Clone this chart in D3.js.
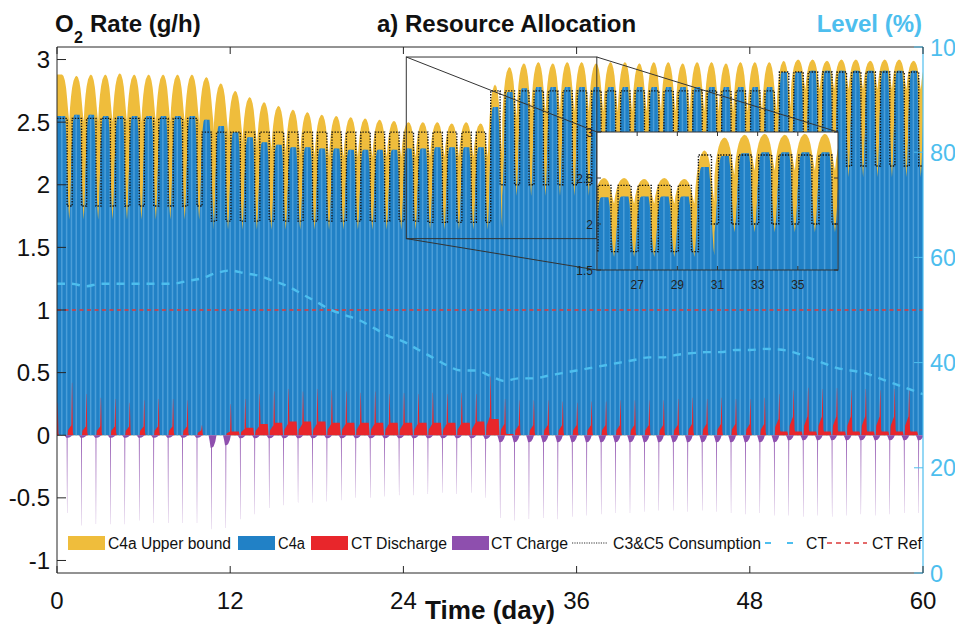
<!DOCTYPE html>
<html><head><meta charset="utf-8">
<script src="https://cdn.jsdelivr.net/npm/d3@7"></script>
<style>
html,body{margin:0;padding:0;background:#fff;}
svg{display:block;font-family:"Liberation Sans",Arial,Helvetica,sans-serif;}
</style></head><body>
<svg id="chart" width="955" height="625"></svg>
<script>
// ================= DATA =================
const days = d3.range(60);                       // day index 0..59
const xTicks = [0, 12, 24, 36, 48, 60];
const yLeftTicks = [-1, -0.5, 0, 0.5, 1, 1.5, 2, 2.5, 3];
const yRightTicks = [0, 20, 40, 60, 80, 100];
const insetXTicks = [27, 29, 31, 33, 35];
const insetYTicks = [1.5, 2, 2.5, 3];

// per daily cycle (g/h)
const upperPeak = [2.88,2.87,2.88,2.88,2.89,2.88,2.88,2.88,2.88,2.88,
  2.86,2.81,2.75,2.70,2.66,2.63,2.60,2.58,2.56,2.55,
  2.54,2.53,2.52,2.51,2.50,2.50,2.50,2.49,2.50,2.49,
  2.80,2.94,2.97,2.98,2.97,2.98,2.98,2.97,2.98,2.98,
  2.97,2.98,2.98,2.97,2.98,2.98,2.97,2.98,2.98,2.98,
  2.99,3.00,3.00,2.99,3.00,3.00,2.99,3.00,3.00,2.99];
const upperLow = [2.50,2.50,2.50,2.50,2.50,2.50,2.50,2.50,2.50,2.50,
  2.48,2.43,2.38,2.33,2.29,2.27,2.25,2.24,2.22,2.22,
  2.22,2.22,2.22,2.22,2.22,2.22,2.22,2.22,2.22,2.22,
  2.22,2.52,2.58,2.58,2.58,2.58,2.58,2.58,2.58,2.58,
  2.58,2.58,2.58,2.58,2.58,2.58,2.58,2.58,2.58,2.58,
  2.60,2.76,2.76,2.76,2.76,2.76,2.76,2.76,2.76,2.76];
const c4aPeak = [2.55,2.56,2.56,2.55,2.55,2.55,2.55,2.55,2.55,2.55,
  2.52,2.47,2.42,2.38,2.34,2.32,2.30,2.30,2.29,2.29,
  2.28,2.28,2.28,2.28,2.29,2.29,2.30,2.30,2.30,2.30,
  2.62,2.74,2.77,2.78,2.78,2.78,2.78,2.78,2.78,2.78,
  2.78,2.78,2.78,2.78,2.78,2.78,2.78,2.78,2.78,2.78,
  2.90,2.90,2.91,2.91,2.91,2.91,2.91,2.91,2.91,2.91];
const dipLevel = [1.72,1.72,1.72,1.72,1.72,1.72,1.72,1.72,1.72,1.72,
  1.72,1.64,1.64,1.64,1.64,1.64,1.64,1.64,1.64,1.64,
  1.64,1.64,1.64,1.64,1.64,1.64,1.64,1.64,1.64,1.64,
  1.64,1.91,1.91,1.91,1.91,1.91,1.91,1.91,1.91,1.91,
  1.91,1.91,1.91,1.91,1.91,1.91,1.91,1.91,1.91,1.91,
  1.91,2.06,2.06,2.06,2.06,2.06,2.06,2.06,2.06,2.06];
// C3&C5 consumption square wave, per day
const consHigh = [2.53,2.53,2.53,2.53,2.53,2.53,2.53,2.53,2.53,2.53,
  2.42,2.42,2.42,2.42,2.42,2.42,2.42,2.42,2.42,2.42,
  2.42,2.42,2.42,2.42,2.42,2.42,2.42,2.42,2.42,2.42,
  2.75,2.75,2.75,2.75,2.75,2.75,2.75,2.75,2.75,2.75,
  2.75,2.75,2.75,2.75,2.75,2.75,2.75,2.75,2.75,2.75,
  2.90,2.90,2.90,2.90,2.90,2.90,2.90,2.90,2.90,2.90];
const consLow = [1.83,1.83,1.83,1.83,1.83,1.83,1.83,1.83,1.83,1.83,
  1.71,1.71,1.71,1.71,1.71,1.71,1.71,1.71,1.71,1.71,
  1.71,1.71,1.71,1.71,1.71,1.70,1.70,1.70,1.70,1.70,
  2.00,2.00,2.00,2.00,2.00,2.00,2.00,2.00,2.00,2.00,
  2.00,2.00,2.00,2.00,2.00,2.00,2.00,2.00,2.00,2.00,
  2.15,2.15,2.15,2.15,2.15,2.15,2.15,2.15,2.15,2.15];
// CT discharge (spike, base before spike, base after spike)
const redSpike = [0.26,0.42,0.33,0.30,0.29,0.26,0.28,0.29,0.29,0.28,
  0.08,0.00,0.25,0.29,0.33,0.35,0.37,0.35,0.37,0.36,
  0.35,0.34,0.35,0.33,0.34,0.33,0.34,0.33,0.34,0.33,
  0.47,0.29,0.28,0.28,0.28,0.27,0.26,0.27,0.27,0.28,
  0.28,0.28,0.28,0.29,0.30,0.29,0.30,0.29,0.29,0.30,
  0.33,0.36,0.38,0.37,0.38,0.36,0.37,0.36,0.37,0.36];
const redPre = [0.05,0.08,0.07,0.07,0.07,0.07,0.07,0.07,0.07,0.07,
  0.04,0.00,0.03,0.05,0.07,0.08,0.09,0.09,0.09,0.09,
  0.09,0.09,0.09,0.09,0.09,0.09,0.09,0.09,0.09,0.10,
  0.15,0.09,0.08,0.08,0.08,0.08,0.08,0.08,0.08,0.08,
  0.08,0.08,0.08,0.08,0.09,0.09,0.09,0.09,0.09,0.09,
  0.13,0.15,0.15,0.15,0.15,0.15,0.15,0.15,0.15,0.15];
const redPost = [0,0,0,0,0,0,0,0,0,0,
  0,0,0.03,0.06,0.09,0.10,0.11,0.11,0.11,0.10,
  0.10,0.10,0.10,0.10,0.10,0.10,0.10,0.10,0.10,0.11,
  0.13,0.01,0,0,0,0,0,0,0,0,
  0,0,0,0,0,0,0,0,0,0,
  0.03,0.03,0.03,0.03,0.03,0.03,0.03,0.03,0.03,0.03];
// CT charge (negative): spike depth and hump depth
const chargeSpike = [-0.62,-0.72,-0.71,-0.71,-0.71,-0.68,-0.70,-0.70,-0.70,-0.70,
  -0.75,-0.74,-0.67,-0.63,-0.58,-0.56,-0.54,-0.54,-0.53,-0.52,
  -0.50,-0.50,-0.49,-0.48,-0.48,-0.47,-0.46,-0.47,-0.46,-0.50,
  -0.66,-0.68,-0.67,-0.66,-0.67,-0.65,-0.64,-0.63,-0.62,-0.62,
  -0.61,-0.60,-0.60,-0.61,-0.60,-0.61,-0.62,-0.63,-0.62,-0.64,
  -0.64,-0.65,-0.64,-0.65,-0.64,-0.63,-0.64,-0.63,-0.62,-0.62];
const chargeHump = [0.02,0.02,0.02,0.02,0.02,0.02,0.02,0.02,0.02,0.02,
  0.10,0.08,0.025,0.025,0.025,0.025,0.025,0.025,0.025,0.025,
  0.025,0.025,0.025,0.025,0.025,0.025,0.025,0.025,0.025,0.03,
  0.055,0.055,0.055,0.055,0.055,0.055,0.055,0.055,0.055,0.055,
  0.055,0.055,0.055,0.055,0.055,0.055,0.055,0.055,0.055,0.055,
  0.04,0.04,0.04,0.04,0.04,0.04,0.04,0.04,0.04,0.04];
// CT level (%) at day 0..60
const ctLevel = [55,55,54.5,55,55,55,55,55,55,55.5,
  56,57,57.5,57,56.5,55.5,54.5,53,51.5,50,
  49,48,46.5,45,44,42.5,41,39.5,38.5,38.5,
  37.5,36.5,37,37,37.5,38,38.5,39,39.5,40,
  40.5,41,41,41.5,41.8,42,42,42.4,42.4,42.6,
  42.5,42,41,40,39,38.5,38,37,36,35,34];
const ctRefLevel = 50;
// within-cycle shape (phase from dip to next dip, fraction of low->peak)
const upperPhase = [0,0.05,0.12,0.2,0.3,0.42,0.5,0.6,0.7,0.78,0.85,0.92,1];
const upperFrac  = [0,0.3,0.55,0.75,0.9,0.98,1,0.97,0.87,0.72,0.5,0.25,0];
const c4aPhase = [0,0.06,0.12,0.18,0.24,0.3,0.35,0.72,0.78,0.84,0.9,0.95,1];
const c4aFrac  = [0,0.15,0.4,0.7,0.9,0.98,1,1,0.85,0.55,0.28,0.1,0];

const legendLabels = ["C4a Upper bound","C4a","CT Discharge","CT Charge","C3&C5 Consumption","CT","CT Ref"];

// ================= COLOURS / LAYOUT =================
const C = {yellow:"#efbd3c", blue:"#2181c6", stripe:"#4c9ed8", red:"#e8262b",
  purple:"#8e4fae", cyan:"#4dbeee", refRed:"#dc3a3a", axis:"#262626"};
const svg = d3.select("#chart");
const x  = d3.scaleLinear().domain([0,60]).range([57,923]);
const yL = d3.scaleLinear().domain([-1.1,3.1]).range([573,47]);
const yR = d3.scaleLinear().domain([0,100]).range([573,47]);
const xi = d3.scaleLinear().domain([25,37]).range([597,838]);
const yi = d3.scaleLinear().domain([1.5,3]).range([270,132]);
const zoomSrc = {x0:24.2, x1:37.4, y0:1.57, y1:3.02};

// ================= BUILD SERIES =================
const fU = d3.scaleLinear().domain(upperPhase).range(upperFrac);
const fC = d3.scaleLinear().domain(c4aPhase).range(c4aFrac);
const series = d3.range(0,6001).map(i=>{
  const t = i/100;
  const k = Math.floor(t+0.15);
  let q = t+0.15-k;
  if (k===0) q = Math.max(q,0.5);
  const ki = Math.min(k,59);
  const lo = upperLow[ki], d = dipLevel[ki];
  const u = lo + fU(q)*(upperPeak[ki]-lo);
  const c = Math.min(u, d + fC(q)*(c4aPeak[ki]-d));
  return {t,u,c};
});
const consPts = [[0,consHigh[0]],[0.7,consLow[0]]];
days.slice(1).forEach(n=>{consPts.push([n+0.05,consHigh[n]]); consPts.push([n+0.7,consLow[n]]);});
consPts.push([60,consLow[59]]);

const redPts = [[0,redPre[0]]];
days.forEach(n=>{
  const s=redSpike[n], b1=redPre[n], b2=redPost[n];
  [[n-0.27,0],[n-0.24,0.5*b1],[n-0.1,0.8*b1],[n-0.01,b1],[n+0.035,s],[n+0.05,s],
   [n+0.1,Math.max(b2,0.3*b1)],[n+0.14,b2],[n+0.6,b2],[n+0.66,0]]
   .forEach(p=>{ if(p[0]>0) redPts.push(p); });
});
const purPts = [[0,0]];
days.forEach(n=>{
  const d=chargeSpike[n], h=chargeHump[n];
  [[n+0.5,0],[n+0.58,-0.5*h],[n+0.64,-h],[n+0.67,-h],[n+0.695,d],[n+0.705,d],
   [n+0.73,-h],[n+0.85,-0.9*h],[n+0.97,-0.5*h],[n+1.05,0]].forEach(p=>purPts.push(p));
});

// ================= DEFS =================
const defs = svg.append("defs");
defs.append("clipPath").attr("id","plotClip").append("rect")
  .attr("x",57).attr("y",47).attr("width",866).attr("height",526);
defs.append("clipPath").attr("id","insetClip").append("rect")
  .attr("x",597).attr("y",132).attr("width",241).attr("height",138);

function drawCore(g, xs, ys, data, clipId){
  g.append("path").datum(data)
    .attr("d", d3.area().x(d=>xs(d.t)).y0(ys(0)).y1(d=>ys(d.u)))
    .attr("fill", C.yellow);
  const blueArea = d3.area().x(d=>xs(d.t)).y0(ys(0)).y1(d=>ys(d.c));
  g.append("path").datum(data).attr("d", blueArea).attr("fill", C.blue);
  defs.append("clipPath").attr("id",clipId).append("path").datum(data).attr("d",blueArea);
  const dom = xs.domain();
  const stripes = d3.range(1,180).map(k=>k/3).filter(v=>v>=dom[0]-1 && v<=dom[1]+1);
  g.append("g").attr("clip-path",`url(#${clipId})`).selectAll("line").data(stripes).join("line")
    .attr("x1",d=>xs(d)).attr("x2",d=>xs(d)).attr("y1",ys(-0.5)).attr("y2",ys(3.2))
    .attr("stroke",C.stripe).attr("stroke-width",1.5);
}

// ================= MAIN PLOT =================
const gPlot = svg.append("g").attr("clip-path","url(#plotClip)");
drawCore(gPlot, x, yL, series, "blueClipMain");
gPlot.append("path").datum(redPts)
  .attr("d", d3.area().x(d=>x(d[0])).y0(yL(0)).y1(d=>yL(d[1])))
  .attr("fill", C.red);
gPlot.append("path").datum(purPts)
  .attr("d", d3.area().x(d=>x(d[0])).y0(yL(0)).y1(d=>yL(d[1])))
  .attr("fill", C.purple);
gPlot.append("path").datum(consPts)
  .attr("d", d3.line().x(d=>x(d[0])).y(d=>yL(d[1])).curve(d3.curveStepAfter))
  .attr("fill","none").attr("stroke","#111").attr("stroke-width",1.4).attr("stroke-dasharray","1.4,1.4");
gPlot.append("line").attr("x1",x(0)).attr("x2",x(60)).attr("y1",yR(ctRefLevel)).attr("y2",yR(ctRefLevel))
  .attr("stroke",C.refRed).attr("stroke-width",1.7).attr("stroke-dasharray","4,3.5");
gPlot.append("path").datum(ctLevel.map((v,i)=>[i,v]))
  .attr("d", d3.line().x(d=>x(d[0])).y(d=>yR(d[1])).curve(d3.curveMonotoneX))
  .attr("fill","none").attr("stroke",C.cyan).attr("stroke-width",2.4).attr("stroke-dasharray","8,7");

// ================= AXES =================
const ax = svg.append("g");
ax.append("line").attr("x1",57).attr("x2",923).attr("y1",47).attr("y2",47).attr("stroke",C.axis).attr("stroke-width",1);
ax.append("line").attr("x1",57).attr("x2",923).attr("y1",573).attr("y2",573).attr("stroke",C.axis).attr("stroke-width",1);
ax.append("line").attr("x1",57).attr("x2",57).attr("y1",47).attr("y2",573).attr("stroke",C.axis).attr("stroke-width",1);
ax.append("line").attr("x1",923).attr("x2",923).attr("y1",47).attr("y2",573).attr("stroke",C.cyan).attr("stroke-width",1.2);
ax.selectAll(".ly").data(yLeftTicks).join("line")
  .attr("x1",57).attr("x2",66).attr("y1",d=>yL(d)).attr("y2",d=>yL(d)).attr("stroke",C.axis);
ax.selectAll(".lyt").data(yLeftTicks).join("text")
  .attr("x",50).attr("y",d=>yL(d)+8.5).attr("text-anchor","end")
  .attr("font-size",24).attr("fill","#111").text(d=>String(d));
ax.selectAll(".ry").data(yRightTicks).join("line")
  .attr("x1",914).attr("x2",923).attr("y1",d=>yR(d)).attr("y2",d=>yR(d)).attr("stroke",C.cyan);
ax.selectAll(".ryt").data(yRightTicks).join("text")
  .attr("x",930).attr("y",d=>yR(d)+8.5).attr("font-size",23.5).attr("fill",C.cyan).text(d=>String(d));
ax.selectAll(".bx").data(xTicks).join("line")
  .attr("x1",d=>x(d)).attr("x2",d=>x(d)).attr("y1",573).attr("y2",566).attr("stroke",C.axis);
ax.selectAll(".tx").data(xTicks).join("line")
  .attr("x1",d=>x(d)).attr("x2",d=>x(d)).attr("y1",47).attr("y2",54).attr("stroke",C.axis);
ax.selectAll(".bxt").data(xTicks).join("text")
  .attr("x",d=>x(d)).attr("y",609).attr("text-anchor","middle")
  .attr("font-size",24).attr("fill","#111").text(d=>String(d));

// titles
svg.append("text").attr("x",377).attr("y",32).attr("font-size",24).attr("font-weight","bold")
  .attr("fill","#111").text("a) Resource Allocation");
svg.append("text").attr("x",55).attr("y",32).attr("font-size",24).attr("font-weight","bold").attr("fill","#111").text("O");
svg.append("text").attr("x",74).attr("y",43).attr("font-size",16).attr("font-weight","bold").attr("fill","#111").text("2");
svg.append("text").attr("x",90).attr("y",32).attr("font-size",24).attr("font-weight","bold").attr("fill","#111").text("Rate (g/h)");
svg.append("text").attr("x",922).attr("y",32).attr("text-anchor","end").attr("font-size",24).attr("font-weight","bold")
  .attr("fill",C.cyan).text("Level (%)");
svg.append("text").attr("x",425).attr("y",619).attr("font-size",25).attr("font-weight","bold")
  .attr("textLength",130).attr("lengthAdjust","spacingAndGlyphs")
  .attr("fill","#111").text("Time (day)");

// ================= ZOOM INDICATOR + INSET =================
const zg = svg.append("g");
const sx0=x(zoomSrc.x0), sx1=x(zoomSrc.x1), sy0=yL(zoomSrc.y1), sy1=yL(zoomSrc.y0);
const ix0=xi.range()[0], ix1=xi.range()[1], iy0=yi.range()[1], iy1=yi.range()[0];
zg.append("rect").attr("x",sx0).attr("y",sy0).attr("width",sx1-sx0).attr("height",sy1-sy0)
  .attr("fill","none").attr("stroke","#333").attr("stroke-width",1);
[[sx0,sy0,ix0,iy0],[sx1,sy0,ix1,iy0],[sx0,sy1,ix0,iy1],[sx1,sy1,ix1,iy1]].forEach(l=>{
  zg.append("line").attr("x1",l[0]).attr("y1",l[1]).attr("x2",l[2]).attr("y2",l[3])
    .attr("stroke","#333").attr("stroke-width",1);
});
const ig = svg.append("g");
ig.append("rect").attr("x",ix0).attr("y",iy0).attr("width",ix1-ix0).attr("height",iy1-iy0).attr("fill","#fff");
const igc = ig.append("g").attr("clip-path","url(#insetClip)");
drawCore(igc, xi, yi, series.filter(d=>d.t>=24.5 && d.t<=37.5), "blueClipInset");
igc.append("path").datum(consPts.filter(d=>d[0]>=23 && d[0]<=38.5))
  .attr("d", d3.line().x(d=>xi(d[0])).y(d=>yi(d[1])).curve(d3.curveStepAfter))
  .attr("fill","none").attr("stroke","#111").attr("stroke-width",1.4).attr("stroke-dasharray","1.4,1.4");
ig.append("rect").attr("x",ix0).attr("y",iy0).attr("width",ix1-ix0).attr("height",iy1-iy0)
  .attr("fill","none").attr("stroke","#333").attr("stroke-width",1);
ig.selectAll(".ixt").data(insetXTicks).join("line")
  .attr("x1",d=>xi(d)).attr("x2",d=>xi(d)).attr("y1",iy1).attr("y2",iy1-4).attr("stroke","#333");
ig.selectAll(".ixt2").data(insetXTicks).join("line")
  .attr("x1",d=>xi(d)).attr("x2",d=>xi(d)).attr("y1",iy0).attr("y2",iy0+4).attr("stroke","#333");
ig.selectAll(".ixl").data(insetXTicks).join("text")
  .attr("x",d=>xi(d)).attr("y",289).attr("text-anchor","middle").attr("font-size",12).attr("fill","#222").text(d=>d);
ig.selectAll(".iyt").data(insetYTicks).join("line")
  .attr("x1",ix0).attr("x2",ix0+4).attr("y1",d=>yi(d)).attr("y2",d=>yi(d)).attr("stroke","#333");
ig.selectAll(".iyt2").data(insetYTicks).join("line")
  .attr("x1",ix1).attr("x2",ix1-4).attr("y1",d=>yi(d)).attr("y2",d=>yi(d)).attr("stroke","#333");
ig.selectAll(".iyl").data(insetYTicks).join("text")
  .attr("x",593).attr("y",d=>yi(d)+4.5).attr("text-anchor","end").attr("font-size",12).attr("fill","#222").text(d=>d);

// ================= LEGEND =================
const lg = svg.append("g");
lg.append("rect").attr("x",61).attr("y",531).attr("width",860).attr("height",28).attr("fill","#fff");
const patchX = [68,238,311,452];
const patchCol = [C.yellow, C.blue, C.red, C.purple];
patchX.forEach((px,i)=>lg.append("rect").attr("x",px).attr("y",536).attr("width",37).attr("height",14).attr("fill",patchCol[i]));
lg.append("line").attr("x1",572).attr("x2",608).attr("y1",543).attr("y2",543)
  .attr("stroke","#333").attr("stroke-width",1.2).attr("stroke-dasharray","1.2,1.2");
lg.append("line").attr("x1",765).attr("x2",795).attr("y1",543).attr("y2",543)
  .attr("stroke",C.cyan).attr("stroke-width",2.2).attr("stroke-dasharray","6,16");
lg.append("line").attr("x1",827).attr("x2",867).attr("y1",543).attr("y2",543)
  .attr("stroke",C.refRed).attr("stroke-width",1.5).attr("stroke-dasharray","5,4");
const textX = [108,278,351,491,613,806,872];
const textW = [123,27,96,77,148,21,50];
legendLabels.forEach((t,i)=>lg.append("text").attr("x",textX[i]).attr("y",549)
  .attr("font-size",16).attr("textLength",textW[i]).attr("lengthAdjust","spacingAndGlyphs")
  .attr("fill","#111").text(t));
</script>
</body></html>
